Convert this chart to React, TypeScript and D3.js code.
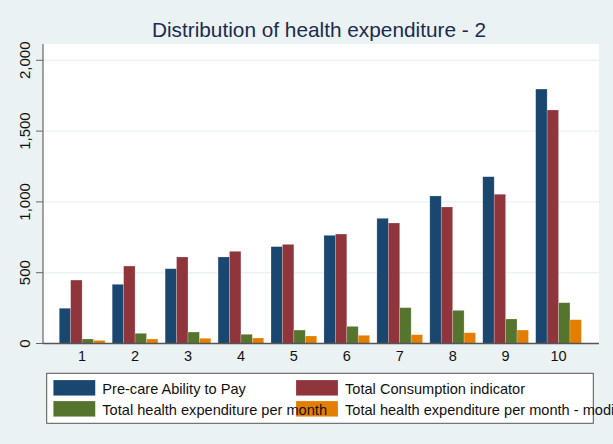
import React from "react";
import * as d3 from "d3";

const categories = ["1", "2", "3", "4", "5", "6", "7", "8", "9", "10"];
const seriesNames = [
  "Pre-care Ability to Pay",
  "Total Consumption indicator",
  "Total health expenditure per month",
  "Total health expenditure per month - modified",
];
const preCare = [249, 418, 528, 611, 684, 764, 884, 1042, 1178, 1797];
const consumption = [448, 547, 611, 651, 700, 773, 851, 964, 1054, 1649];
const healthExp = [32, 72, 81, 65, 95, 121, 253, 234, 173, 288];
const healthExpMod = [22, 32, 37, 39, 53, 58, 62, 76, 95, 168];
const yTicks = [0, 500, 1000, 1500, 2000];
const colors = ["#1a476f", "#90353b", "#55752f", "#e37e00"];
const title = "Distribution of health expenditure - 2";

const W = 613;
const H = 444;
const plot = { left: 43, right: 599, top: 44, bottom: 343.5 };
const FONT = "'Liberation Sans', Arial, Helvetica, sans-serif";

export default function App() {
  const series = [preCare, consumption, healthExp, healthExpMod];
  const x0 = d3
    .scaleBand<string>()
    .domain(categories)
    .range([plot.left, plot.right])
    .paddingInner(0.137)
    .paddingOuter(0.32)
    .align(0.48);
  const x1 = d3
    .scaleBand<number>()
    .domain(d3.range(series.length))
    .range([0, x0.bandwidth()])
    .padding(0);
  const y = d3.scaleLinear().domain([0, 2000]).range([plot.bottom, 60.3]);
  const fmt = d3.format(",");

  const legendItems = [
    { x: 53.3, y: 380, tx: 102.3, ty: 393.5 },
    { x: 296, y: 380, tx: 345, ty: 393.5 },
    { x: 53.3, y: 401, tx: 102.3, ty: 414.5 },
    { x: 296, y: 401, tx: 345, ty: 414.5 },
  ];

  return (
    <svg
      width={W}
      height={H}
      style={{ position: "absolute", left: 0, top: 0, display: "block" }}
      fontFamily={FONT}
    >
      <rect x={0} y={0} width={W} height={H} fill="#eaf2f3" />
      <text
        x={319}
        y={36.7}
        textAnchor="middle"
        fontSize={20.8}
        fill="#1c2b4f"
      >
        {title}
      </text>
      <rect
        x={plot.left}
        y={plot.top}
        width={plot.right - plot.left}
        height={plot.bottom - plot.top}
        fill="#ffffff"
      />
      {yTicks.map((t) => (
        <g key={t}>
          {t > 0 && (
            <line
              x1={plot.left}
              x2={plot.right}
              y1={y(t)}
              y2={y(t)}
              stroke="#eaf2f3"
              strokeWidth={1.4}
            />
          )}
          <line x1={36} x2={plot.left} y1={y(t)} y2={y(t)} stroke="#666" strokeWidth={1} />
          <text
            transform={`translate(30,${y(t)}) rotate(-90)`}
            textAnchor="middle"
            fontSize={15}
            fill="#111"
          >
            {fmt(t)}
          </text>
        </g>
      ))}
      {categories.map((c, i) => (
        <g key={c}>
          {series.map((s, j) => (
            <rect
              key={j}
              x={(x0(c) as number) + (x1(j) as number)}
              y={y(s[i])}
              width={x1.bandwidth()}
              height={y(0) - y(s[i])}
              fill={colors[j]}
              stroke="rgba(255,255,255,0.35)"
              strokeWidth={0.6}
            />
          ))}
          <text
            x={(x0(c) as number) + x0.bandwidth() / 2}
            y={360.7}
            textAnchor="middle"
            fontSize={14.5}
            fill="#111"
          >
            {c}
          </text>
        </g>
      ))}
      <line x1={plot.left} x2={plot.left} y1={plot.top} y2={plot.bottom} stroke="#666" strokeWidth={1.2} />
      <line x1={plot.left} x2={plot.right} y1={plot.bottom} y2={plot.bottom} stroke="#555" strokeWidth={1.4} />
      <rect
        x={46.7}
        y={373.3}
        width={546.6}
        height={50}
        fill="#ffffff"
        stroke="#555"
        strokeWidth={1}
      />
      {legendItems.map((l, j) => (
        <rect key={"k" + j} x={l.x} y={l.y} width={42} height={15.7} fill={colors[j]} stroke="rgba(255,255,255,0.35)" strokeWidth={0.6} />
      ))}
      {legendItems.map((l, j) => (
        <text key={"t" + j} x={l.tx} y={l.ty} fontSize={14.6} fill="#111">
          {seriesNames[j]}
        </text>
      ))}
    </svg>
  );
}
